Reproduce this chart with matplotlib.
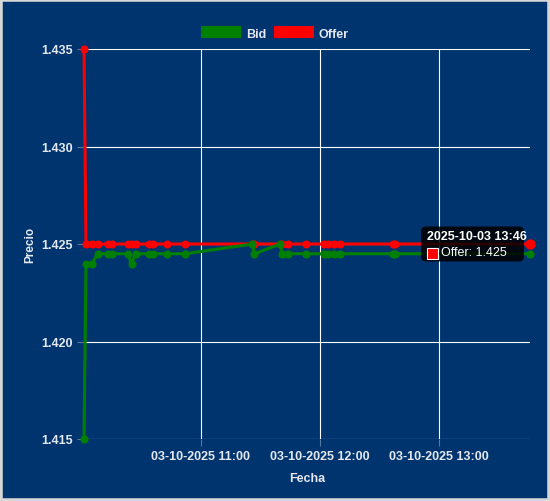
import matplotlib
matplotlib.use("Agg")
import matplotlib.pyplot as plt
import matplotlib.dates as mdates
import pandas as pd
from matplotlib.patches import Patch, FancyBboxPatch, Rectangle
from matplotlib.transforms import IdentityTransform

plt.rcParams['font.family'] = ['Liberation Sans', 'DejaVu Sans']

# ------------------------------------------------------------
# Data (03-10-2025)
# ------------------------------------------------------------
fecha = "2025-10-03"
horas = ["10:01", "10:02", "10:05", "10:08", "10:13", "10:15", "10:23",
         "10:25", "10:27", "10:34", "10:36", "10:43", "10:52", "11:26",
         "11:27", "11:40", "11:41", "11:44", "11:53", "12:02", "12:04",
         "12:07", "12:10", "12:37", "12:38", "13:46"]
bid = [1.415, 1.424, 1.424, 1.4245, 1.4245, 1.4245, 1.4245,
       1.424, 1.4245, 1.4245, 1.4245, 1.4245, 1.4245, 1.425,
       1.4245, 1.425, 1.4245, 1.4245, 1.4245, 1.4245, 1.4245,
       1.4245, 1.4245, 1.4245, 1.4245, 1.4245]
offer = [1.435, 1.425, 1.425, 1.425, 1.425, 1.425, 1.425,
         1.425, 1.425, 1.425, 1.425, 1.425, 1.425, 1.425,
         1.425, 1.425, 1.425, 1.425, 1.425, 1.425, 1.425,
         1.425, 1.425, 1.425, 1.425, 1.425]
y_ticks = [1.415, 1.420, 1.425, 1.430, 1.435]

tiempos = pd.to_datetime([fecha + " " + h for h in horas])

BG = '#00346F'
TXT = '#e4e8ee'
GRID = (1, 1, 1, 0.35)

fig = plt.figure(figsize=(5.5, 5.02), dpi=100, facecolor=BG)
ax = fig.add_axes([84 / 550, 1 - 440 / 502, (530 - 84) / 550, (440 - 50) / 502])
ax.set_facecolor(BG)

ax.plot(tiempos, offer, color='#ff0000', lw=2.2, marker='o', ms=4.8, zorder=3, clip_on=False)
ax.plot(tiempos, bid, color='#008000', lw=2.2, marker='o', ms=4.8, zorder=4, clip_on=False)
# hovered point
ax.plot(tiempos[-1:], offer[-1:], 'o', color='#ff0000', ms=6.5, zorder=5, clip_on=False)

ax.set_xlim(tiempos[0], tiempos[-1])
ax.set_ylim(y_ticks[0], y_ticks[-1])
ax.set_yticks(y_ticks)
ax.yaxis.set_major_formatter(plt.FuncFormatter(lambda v, p: f"{v:.3f}"))
ax.xaxis.set_major_locator(mdates.HourLocator())
ax.xaxis.set_major_formatter(mdates.DateFormatter('%d-%m-%Y %H:%M'))

ax.grid(True, color=GRID, lw=0.8)
ax.set_axisbelow(True)
for s in ax.spines.values():
    s.set_visible(False)
ax.tick_params(colors=GRID, labelcolor=TXT, labelsize=9, length=5, width=0.8, pad=3)
for lab in ax.get_xticklabels() + ax.get_yticklabels():
    lab.set_fontweight('bold')

ax.set_xlabel("Fecha", color=TXT, fontsize=9, fontweight='bold', labelpad=7)
fig.text(30 / 550, 1 - 245 / 502, "Precio", color=TXT, fontsize=8.5, fontweight='bold',
         rotation=90, ha='center', va='center')

# legend
handles = [Patch(facecolor='#008000', label='Bid'), Patch(facecolor='#ff0000', label='Offer')]
leg = fig.legend(handles=handles, loc='center', bbox_to_anchor=(0.5, 1 - 34 / 502), ncol=2,
                 frameon=False, fontsize=9, handlelength=3.2, handleheight=1.05,
                 handletextpad=0.4, columnspacing=0.6)
for t in leg.get_texts():
    t.set_color(TXT)
    t.set_fontweight('bold')

# tooltip at the last Offer point
px, py = ax.transData.transform((mdates.date2num(tiempos[-1]), offer[-1]))
ident = IdentityTransform()
bw, bh = 103, 35
bx, by = px - 6 - bw, py - bh / 2
fig.add_artist(FancyBboxPatch((bx, by), bw, bh, boxstyle="round,pad=0,rounding_size=5",
                              facecolor=(0, 0, 0, 0.85), edgecolor='none', transform=ident, zorder=10))
fig.text(bx + 6, by + bh - 10, tiempos[-1].strftime('%Y-%m-%d %H:%M'), transform=ident,
         color='white', fontsize=9, fontweight='bold', va='center', zorder=11)
fig.add_artist(Rectangle((bx + 6, by + 3), 11, 11, facecolor='#ff0000', edgecolor='white',
                         lw=0.8, transform=ident, zorder=11))
fig.text(bx + 20, by + 9, f"Offer: {offer[-1]:.3f}", transform=ident,
         color='white', fontsize=9, va='center', zorder=11)

# light frame round the picture
fig.add_artist(Rectangle((0, 0), 1, 1, transform=fig.transFigure, fill=False,
                         edgecolor='#d8d8d8', lw=4, zorder=20))

fig.savefig("out.png", dpi=100, facecolor=BG)
